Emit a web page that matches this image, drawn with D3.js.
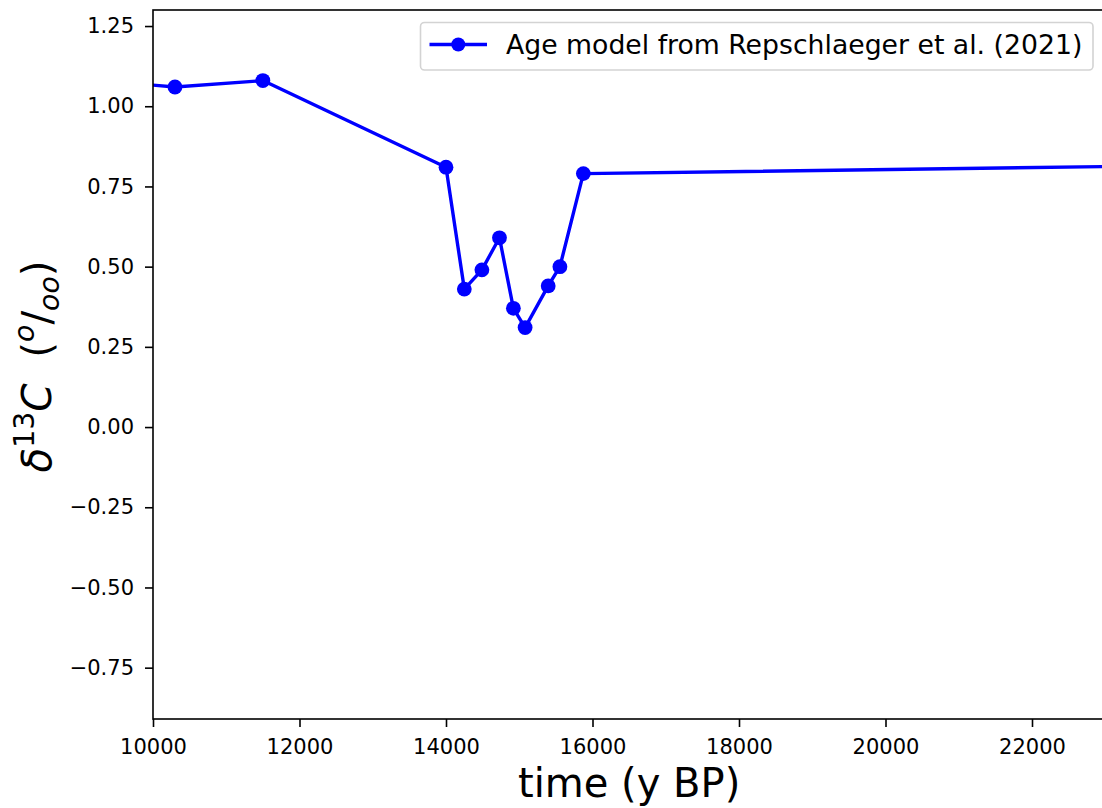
<!DOCTYPE html>
<html>
<head>
<meta charset="utf-8">
<script src="https://cdn.jsdelivr.net/npm/d3@7"></script>
<style>
  html, body { margin: 0; padding: 0; background: #fff; }
  svg { display: block; }
  text { font-family: "DejaVu Sans", sans-serif; }
</style>
</head>
<body>
<svg id="chart" width="1102" height="808"></svg>
<script>
// ---- data ----
const times = [9000, 10300, 11500, 14000, 14250, 14490, 14730, 14920, 15080, 15395, 15555, 15875, 24000];
const d13C  = [1.085, 1.06, 1.08, 0.81, 0.43, 0.49, 0.59, 0.37, 0.31, 0.44, 0.50, 0.79, 0.815];
const xTicks = [10000, 12000, 14000, 16000, 18000, 20000, 22000];
const yTicks = [-0.75, -0.50, -0.25, 0.00, 0.25, 0.50, 0.75, 1.00, 1.25];
const seriesLabel = "Age model from Repschlaeger et al. (2021)";
const xLabel = "time (y BP)";

(function () {
const points = times.map((t, i) => ({ t: t, v: d13C[i] }));

const svg = d3.select("#chart");
const pL = 153, pR = 1105.25, pT = 10, pB = 719;

const x = d3.scaleLinear().domain([10000, 23000]).range([pL, pR]);
const y = d3.scaleLinear().domain([-0.91, 1.30]).range([pB, pT]);

svg.append("rect").attr("width", 1102).attr("height", 808).attr("fill", "#fff");

svg.append("clipPath").attr("id", "plotclip")
  .append("rect").attr("x", pL).attr("y", pT)
  .attr("width", pR - pL).attr("height", pB - pT);

const plot = svg.append("g").attr("clip-path", "url(#plotclip)");

plot.append("path")
  .datum(points)
  .attr("fill", "none")
  .attr("stroke", "#0000ff")
  .attr("stroke-width", 3.4)
  .attr("stroke-linejoin", "round")
  .attr("d", d3.line().x(d => x(d.t)).y(d => y(d.v)));

plot.selectAll("circle.pt")
  .data(points)
  .enter().append("circle")
  .attr("class", "pt")
  .attr("cx", d => x(d.t))
  .attr("cy", d => y(d.v))
  .attr("r", 7.4)
  .attr("fill", "#0000ff");

// axes
const fmtY = v => d3.format(".2f")(v).replace("-", "\u2212");
const xAxis = d3.axisBottom(x).tickValues(xTicks).tickFormat(d3.format("d"))
  .tickSizeInner(8).tickSizeOuter(0).tickPadding(12);
const yAxis = d3.axisLeft(y).tickValues(yTicks).tickFormat(fmtY)
  .tickSizeInner(8).tickSizeOuter(0).tickPadding(11);

const gx = svg.append("g").attr("transform", `translate(0,${pB})`).call(xAxis);
const gy = svg.append("g").attr("transform", `translate(${pL},0)`).call(yAxis);
[gx, gy].forEach(g => {
  g.select(".domain").remove();
  g.selectAll(".tick line").attr("stroke", "#000").attr("stroke-width", 1.6);
  g.selectAll(".tick text").attr("fill", "#000")
    .style("font-family", "'DejaVu Sans', sans-serif").style("font-size", "21px");
});

// spines
svg.append("rect")
  .attr("x", pL).attr("y", pT)
  .attr("width", pR - pL).attr("height", pB - pT)
  .attr("fill", "none").attr("stroke", "#000").attr("stroke-width", 1.6);

// x label
svg.append("text")
  .attr("x", (pL + pR) / 2).attr("y", 797)
  .attr("text-anchor", "middle")
  .style("font-size", "40px")
  .attr("fill", "#000")
  .text(xLabel);

// y label (mathtext-like)
const F = 40.5;
const yl = svg.append("text")
  .attr("transform", `translate(50.5,${(pT + pB) / 2 + 2}) rotate(-90)`)
  .attr("text-anchor", "middle")
  .attr("fill", "#000")
  .style("font-size", F + "px");
yl.append("tspan").style("font-style", "italic").text("\u03b4");
yl.append("tspan").attr("dy", -0.42 * F).style("font-size", (0.7 * F) + "px").text("13");
yl.append("tspan").attr("dy", 0.42 * F).style("font-style", "italic").text("C");
yl.append("tspan").text("\u00a0\u00a0(");
yl.append("tspan").attr("dy", -0.42 * F).style("font-style", "italic").style("font-size", (0.7 * F) + "px").text("o");
yl.append("tspan").attr("dy", 0.42 * F).text("/");
yl.append("tspan").attr("dy", 0.2 * F).style("font-style", "italic").style("font-size", (0.7 * F) + "px").text("oo");
yl.append("tspan").attr("dy", -0.2 * F).text(")");

// legend
const lg = svg.append("g");
lg.append("rect")
  .attr("x", 420.5).attr("y", 22.5).attr("width", 672.5).attr("height", 47.5)
  .attr("rx", 4).attr("ry", 4)
  .attr("fill", "#fff").attr("fill-opacity", 0.8)
  .attr("stroke", "#d3d3d3").attr("stroke-width", 1.6);
lg.append("line")
  .attr("x1", 429.5).attr("x2", 487).attr("y1", 44.5).attr("y2", 44.5)
  .attr("stroke", "#0000ff").attr("stroke-width", 3.4);
lg.append("circle").attr("cx", 458.3).attr("cy", 44.5).attr("r", 7).attr("fill", "#0000ff");
lg.append("text")
  .attr("x", 506).attr("y", 54)
  .attr("fill", "#000")
  .style("font-size", "26.7px")
  .text(seriesLabel);
})();
</script>
</body>
</html>
